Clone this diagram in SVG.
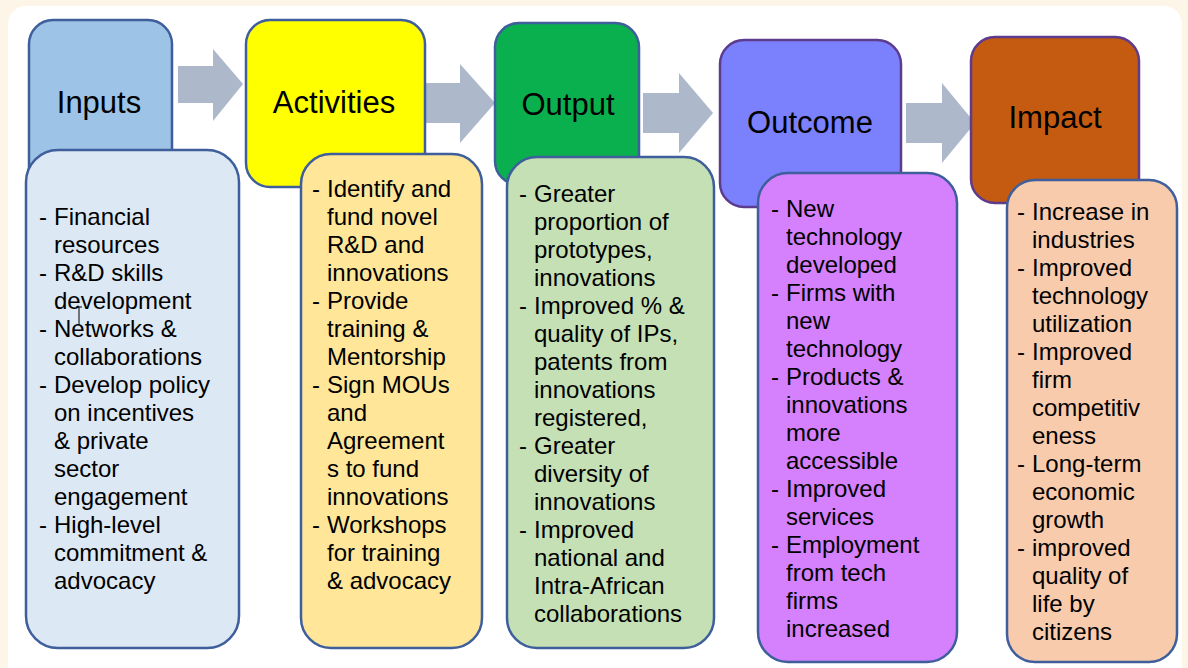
<svg xmlns="http://www.w3.org/2000/svg" width="1188" height="668" viewBox="0 0 1188 668">
<style>
.hd{font-family:"Liberation Sans",Arial,sans-serif;font-size:31px;fill:#000}
.bt{font-family:"Liberation Sans",Arial,sans-serif;font-size:24px;fill:#000}
.hb{stroke:#3e5e9c;stroke-width:2.5}
.hp{stroke:#5d3c8e;stroke-width:2.5}
.bb{stroke:#3e5e9c;stroke-width:2.5}
.arr{fill:#adb9ca}
</style>
<rect x="0" y="0" width="1188" height="668" fill="#fdf5e8"/>
<rect x="8" y="6" width="1174" height="680" rx="18" fill="#ffffff"/>
<g id="connectors">
<polygon class="arr" points="178,66 213,66 213,49 243,84 213,121 213,103 178,103"/>
<polygon class="arr" points="425,83 460,83 460,64 495,103 460,143 460,123 425,123"/>
<polygon class="arr" points="643,93 679,93 679,73 713,113 679,153 679,133 643,133"/>
<polygon class="arr" points="906,103 942,103 942,83 975,123 942,163 942,143 906,143"/>
</g>
<g id="inputs">
<rect class="hb" x="29" y="20" width="143" height="200" rx="24" fill="#9dc3e6"/>
<text class="hd" x="99" y="113" text-anchor="middle">Inputs</text>
</g>
<g id="activities">
<rect class="hb" x="246" y="20" width="179" height="167" rx="24" fill="#ffff00"/>
<text class="hd" x="334" y="113" text-anchor="middle">Activities</text>
</g>
<g id="output">
<rect class="hb" x="495" y="23" width="144" height="162" rx="24" fill="#0bb04e"/>
<text class="hd" x="568" y="115" text-anchor="middle">Output</text>
</g>
<g id="outcome">
<rect class="hp" x="720" y="40" width="181" height="167" rx="24" fill="#7b80fc"/>
<text class="hd" x="810" y="133" text-anchor="middle">Outcome</text>
</g>
<g id="impact">
<rect class="hp" x="971" y="37" width="168" height="166" rx="24" fill="#c55a11"/>
<text class="hd" x="1055" y="128" text-anchor="middle">Impact</text>
</g>
<g id="inputs-details">
<rect class="bb" x="26" y="150" width="213" height="498" rx="32" fill="#dde8f5"/>
<text class="bt"><tspan x="39" y="225">-</tspan><tspan x="54" y="225">Financial</tspan><tspan x="54" y="253">resources</tspan><tspan x="39" y="281">-</tspan><tspan x="54" y="281">R&amp;D skills</tspan><tspan x="54" y="309">development</tspan><tspan x="39" y="337">-</tspan><tspan x="54" y="337">Networks &amp;</tspan><tspan x="54" y="365">collaborations</tspan><tspan x="39" y="393">-</tspan><tspan x="54" y="393">Develop policy</tspan><tspan x="54" y="421">on incentives</tspan><tspan x="54" y="449">&amp; private</tspan><tspan x="54" y="477">sector</tspan><tspan x="54" y="505">engagement</tspan><tspan x="39" y="533">-</tspan><tspan x="54" y="533">High-level</tspan><tspan x="54" y="561">commitment &amp;</tspan><tspan x="54" y="589">advocacy</tspan></text>
<path d="M79,307 V325 M76,307 H82" stroke="#000" stroke-width="1" fill="none"/>
</g>
<g id="activities-details">
<rect class="bb" x="301" y="154" width="181" height="494" rx="30" fill="#ffe699"/>
<text class="bt"><tspan x="312" y="197">-</tspan><tspan x="327" y="197">Identify and</tspan><tspan x="327" y="225">fund novel</tspan><tspan x="327" y="253">R&amp;D and</tspan><tspan x="327" y="281">innovations</tspan><tspan x="312" y="309">-</tspan><tspan x="327" y="309">Provide</tspan><tspan x="327" y="337">training &amp;</tspan><tspan x="327" y="365">Mentorship</tspan><tspan x="312" y="393">-</tspan><tspan x="327" y="393">Sign MOUs</tspan><tspan x="327" y="421">and</tspan><tspan x="327" y="449">Agreement</tspan><tspan x="327" y="477">s to fund</tspan><tspan x="327" y="505">innovations</tspan><tspan x="312" y="533">-</tspan><tspan x="327" y="533">Workshops</tspan><tspan x="327" y="561">for training</tspan><tspan x="327" y="589">&amp; advocacy</tspan></text>
</g>
<g id="output-details">
<rect class="bb" x="507" y="157" width="207" height="491" rx="30" fill="#c5e0b4"/>
<text class="bt"><tspan x="519" y="202">-</tspan><tspan x="534" y="202">Greater</tspan><tspan x="534" y="230">proportion of</tspan><tspan x="534" y="258">prototypes,</tspan><tspan x="534" y="286">innovations</tspan><tspan x="519" y="314">-</tspan><tspan x="534" y="314">Improved % &amp;</tspan><tspan x="534" y="342">quality of IPs,</tspan><tspan x="534" y="370">patents from</tspan><tspan x="534" y="398">innovations</tspan><tspan x="534" y="426">registered,</tspan><tspan x="519" y="454">-</tspan><tspan x="534" y="454">Greater</tspan><tspan x="534" y="482">diversity of</tspan><tspan x="534" y="510">innovations</tspan><tspan x="519" y="538">-</tspan><tspan x="534" y="538">Improved</tspan><tspan x="534" y="566">national and</tspan><tspan x="534" y="594">Intra-African</tspan><tspan x="534" y="622">collaborations</tspan></text>
</g>
<g id="outcome-details">
<rect class="bb" x="758" y="173" width="199" height="489" rx="30" fill="#d580fc"/>
<text class="bt"><tspan x="771" y="217">-</tspan><tspan x="786" y="217">New</tspan><tspan x="786" y="245">technology</tspan><tspan x="786" y="273">developed</tspan><tspan x="771" y="301">-</tspan><tspan x="786" y="301">Firms with</tspan><tspan x="786" y="329">new</tspan><tspan x="786" y="357">technology</tspan><tspan x="771" y="385">-</tspan><tspan x="786" y="385">Products &amp;</tspan><tspan x="786" y="413">innovations</tspan><tspan x="786" y="441">more</tspan><tspan x="786" y="469">accessible</tspan><tspan x="771" y="497">-</tspan><tspan x="786" y="497">Improved</tspan><tspan x="786" y="525">services</tspan><tspan x="771" y="553">-</tspan><tspan x="786" y="553">Employment</tspan><tspan x="786" y="581">from tech</tspan><tspan x="786" y="609">firms</tspan><tspan x="786" y="637">increased</tspan></text>
</g>
<g id="impact-details">
<rect class="bb" x="1007" y="180" width="170" height="482" rx="28" fill="#f8cbad"/>
<text class="bt"><tspan x="1017" y="220">-</tspan><tspan x="1032" y="220">Increase in</tspan><tspan x="1032" y="248">industries</tspan><tspan x="1017" y="276">-</tspan><tspan x="1032" y="276">Improved</tspan><tspan x="1032" y="304">technology</tspan><tspan x="1032" y="332">utilization</tspan><tspan x="1017" y="360">-</tspan><tspan x="1032" y="360">Improved</tspan><tspan x="1032" y="388">firm</tspan><tspan x="1032" y="416">competitiv</tspan><tspan x="1032" y="444">eness</tspan><tspan x="1017" y="472">-</tspan><tspan x="1032" y="472">Long-term</tspan><tspan x="1032" y="500">economic</tspan><tspan x="1032" y="528">growth</tspan><tspan x="1017" y="556">-</tspan><tspan x="1032" y="556">improved</tspan><tspan x="1032" y="584">quality of</tspan><tspan x="1032" y="612">life by</tspan><tspan x="1032" y="640">citizens</tspan></text>
</g>
</svg>
